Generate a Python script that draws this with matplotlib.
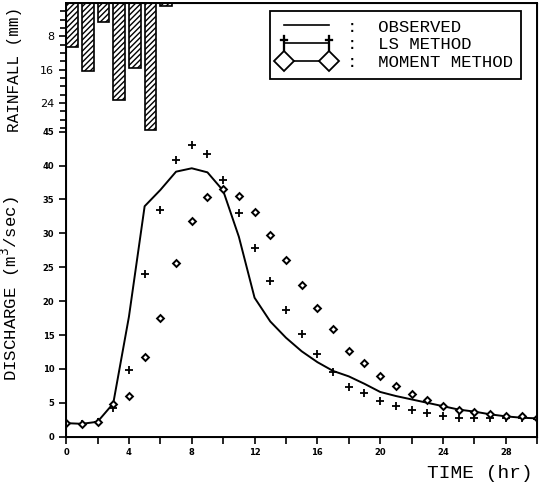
import matplotlib
matplotlib.use("Agg")
import matplotlib.pyplot as plt
from matplotlib.lines import Line2D
from matplotlib.ticker import MultipleLocator

# horas
hours = list(range(31))

# caudal observado y simulado (m3/s)
observed = [2.0, 1.9, 2.2, 4.9, 17.7, 34.0, 36.4, 39.1, 39.6, 39.0, 36.3,
            29.5, 20.5, 17.0, 14.6, 12.6, 11.0, 9.7, 8.9, 7.8, 6.6, 6.0,
            5.5, 5.0, 4.5, 4.0, 3.7, 3.3, 3.0, 2.8, 2.7]
ls_method = [2.0, 1.9, 2.1, 4.2, 9.9, 24.0, 33.5, 40.8, 43.1, 41.7, 37.9,
             33.0, 27.8, 23.0, 18.7, 15.2, 12.2, 9.6, 7.3, 6.4, 5.3, 4.5,
             4.0, 3.5, 3.1, 2.8, 2.7, 2.8, 2.8, 2.7, 2.6]
moment_method = [2.0, 1.9, 2.2, 4.8, 6.0, 11.7, 17.5, 25.6, 31.8, 35.4, 36.5,
                 35.5, 33.1, 29.8, 26.1, 22.4, 19.0, 15.9, 12.6, 10.9, 9.0,
                 7.5, 6.3, 5.4, 4.6, 4.0, 3.7, 3.3, 3.1, 3.0, 2.8]

# lluvia horaria (mm)
rain_hours = [0, 1, 2, 3, 4, 5, 6]
rainfall = [10.5, 16.4, 4.7, 23.2, 15.5, 30.4, 0.8]

q_ticks = [0, 5, 10, 15, 20, 25, 30, 35, 40, 45]
r_ticks = [8, 16, 24]
x_ticks = [0, 4, 8, 12, 16, 20, 24, 28]

MONO = "Liberation Mono"

fig = plt.figure(figsize=(5.51, 4.82), dpi=100)
ax = fig.add_axes([0.120, 0.094, 0.855, 0.900])

ax.plot(hours, observed, color="black", linewidth=1.4)
ax.plot(hours, ls_method, linestyle="none", marker="+", color="black",
        markersize=6, markeredgewidth=1.3)
ax.plot(hours, moment_method, linestyle="none", marker="D", color="black",
        markerfacecolor="white", markersize=3.5, markeredgewidth=1.4)

ax.set_xlim(0, 30)
ax.set_ylim(0, 64)
ax.set_xticks(x_ticks)
ax.xaxis.set_minor_locator(MultipleLocator(2))
ax.set_yticks(q_ticks)
ax.tick_params(axis="both", which="both", direction="out", width=1.2)
ax.tick_params(axis="both", which="major", length=5, labelsize=6)
ax.tick_params(axis="x", which="minor", length=5)
for lab in ax.get_xticklabels() + ax.get_yticklabels():
    lab.set_fontweight("bold")

for s in ax.spines.values():
    s.set_linewidth(1.4)

# lluvia en eje invertido compartiendo el eje izquierdo
ax2 = ax.twinx()
ax2.bar(rain_hours, rainfall, width=0.75, align="edge", color="white",
        edgecolor="black", linewidth=1.2, hatch="//////")
ax2.set_ylim(104, 0)
ax2.yaxis.tick_left()
ax2.set_yticks(r_ticks)
ax2.set_yticks([m for m in range(2, 32, 2) if m not in r_ticks], minor=True)
ax2.tick_params(axis="y", which="both", direction="out", width=1.2)
ax2.tick_params(axis="y", which="major", length=5, labelsize=8)
ax2.tick_params(axis="y", which="minor", length=4)
ax2.spines["right"].set_visible(True)

ax.set_ylabel("DISCHARGE (m$^3$/sec)", fontsize=12.5, family=MONO)
ax.yaxis.set_label_coords(-0.093, 0.341)
ax2.set_ylabel("RAINFALL (mm)", fontsize=11.5, family=MONO)
ax2.yaxis.set_label_position("left")
ax2.yaxis.set_label_coords(-0.093, 0.846)
ax.set_xlabel("TIME (hr)", fontsize=14, family=MONO)
ax.xaxis.set_label_coords(0.879, -0.065)

handles = [
    Line2D([], [], color="black", linewidth=1.2),
    Line2D([], [], color="black", linewidth=1.2, marker=r"$\dagger$",
           markersize=11, markeredgewidth=0.2),
    Line2D([], [], color="black", linewidth=1.2, marker="D",
           markerfacecolor="white", markersize=10, markeredgewidth=1.3),
]
labels = [":  OBSERVED", ":  LS METHOD", ":  MOMENT METHOD"]
leg = ax2.legend(handles, labels, loc="upper right",
                 bbox_to_anchor=(0.966, 0.982), numpoints=2, frameon=True,
                 fancybox=False, edgecolor="black", framealpha=1,
                 handlelength=3.2, handletextpad=0.7, labelspacing=0.15,
                 borderpad=0.5, borderaxespad=0,
                 prop={"family": MONO, "size": 12.5})
leg.get_frame().set_linewidth(1.3)

fig.savefig("out.png", dpi=100)
